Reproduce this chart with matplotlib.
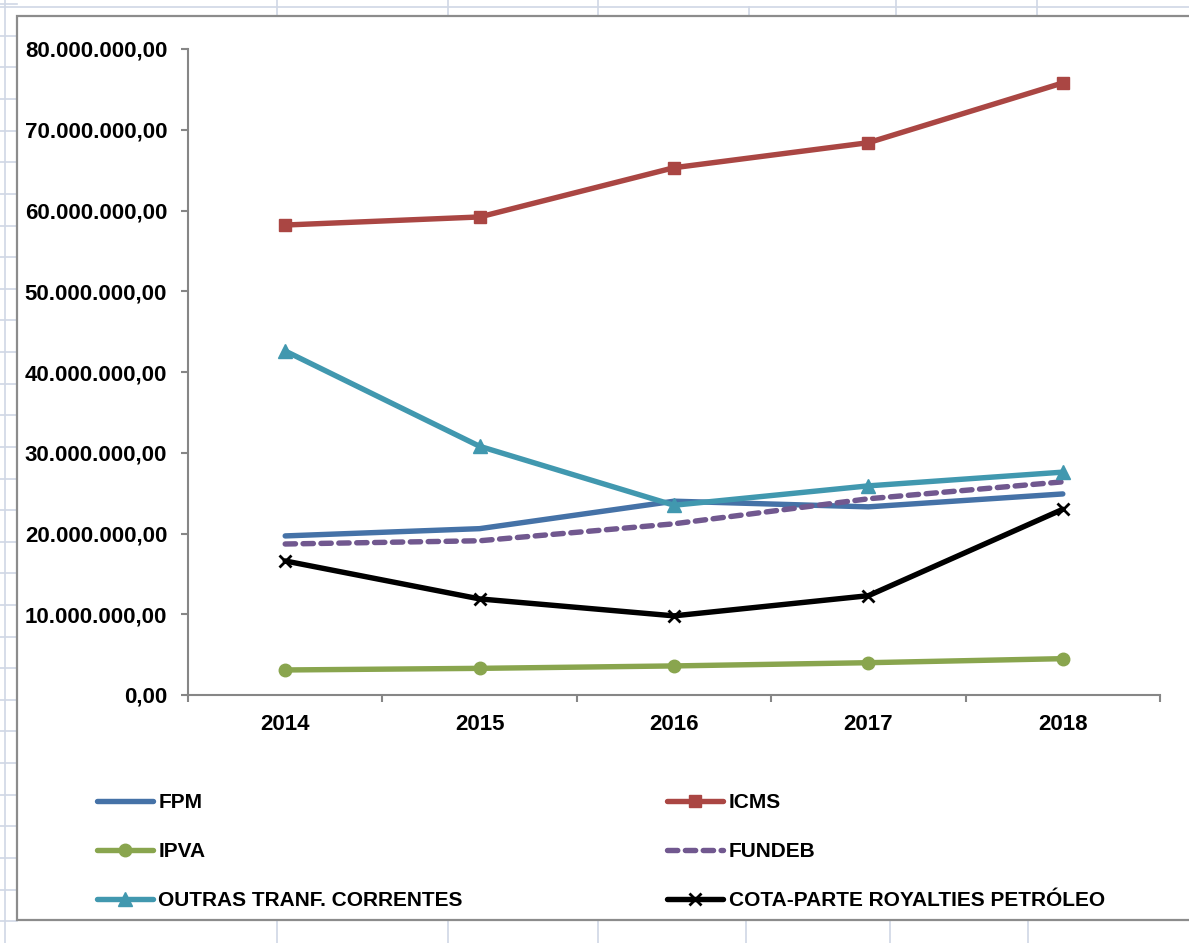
import matplotlib.pyplot as plt
from matplotlib.patches import Rectangle
from matplotlib.ticker import FuncFormatter, MultipleLocator

plt.rcParams['font.family'] = ['Liberation Sans', 'DejaVu Sans']
plt.rcParams['font.weight'] = 'bold'

# Data
years = ['2014', '2015', '2016', '2017', '2018']
fpm = [19.7e6, 20.6e6, 24.0e6, 23.3e6, 24.9e6]
icms = [58.2e6, 59.2e6, 65.3e6, 68.4e6, 75.8e6]
ipva = [3.1e6, 3.3e6, 3.6e6, 4.0e6, 4.5e6]
fundeb = [18.7e6, 19.1e6, 21.2e6, 24.3e6, 26.4e6]
outras = [42.6e6, 30.8e6, 23.5e6, 25.9e6, 27.6e6]
royalties = [16.6e6, 11.9e6, 9.8e6, 12.3e6, 23.0e6]

W, H = 1189, 943
fig = plt.figure(figsize=(W / 100, H / 100), dpi=100)

# Spreadsheet background (pixel coordinates)
bg = fig.add_axes([0, 0, 1, 1])
bg.set_xlim(0, W)
bg.set_ylim(H, 0)
bg.axis('off')
grid_c = '#D0D7E5'
for y in range(605 - 31 * 19, H, 31):
    yy = y + (y - 605) * 0.02
    bg.plot([0, 17], [yy, yy], color=grid_c, lw=1.2)
bg.plot([5, 5], [0, H], color=grid_c, lw=1.2)
bg.plot([0, W], [6.5, 6.5], color=grid_c, lw=1.2)
for x in [277, 448, 598, 896, 1037]:
    bg.plot([x, x], [0, 16], color=grid_c, lw=1.2)
bg.plot([749, 749], [6.5, 16], color=grid_c, lw=1.2)
for x in [277, 448, 598, 746, 890, 1028]:
    bg.plot([x, x], [920, H], color=grid_c, lw=1.2)
bg.add_patch(Rectangle((17, 16), W, 904, facecolor='white',
                       edgecolor='#8C8C8C', lw=1.6, zorder=3))

# Chart
ax = fig.add_axes([188 / W, (H - 695) / H, (1160 - 188) / W, (695 - 49) / H])
ax.patch.set_alpha(0)
x = range(len(years))
lw = 3.9
ax.plot(x, fpm, color='#4572A7', lw=lw, solid_capstyle='round', label='FPM')
ax.plot(x, icms, color='#AA4643', lw=lw, marker='s', ms=8.5,
        solid_capstyle='round', label='ICMS')
ax.plot(x, ipva, color='#89A54E', lw=lw, marker='o', ms=9,
        solid_capstyle='round', label='IPVA')
ax.plot(x, fundeb, color='#71588F', lw=lw, dashes=(1.9, 1.4),
        dash_capstyle='round', label='FUNDEB')
ax.plot(x, outras, color='#4198AF', lw=lw, marker='^', ms=10,
        solid_capstyle='round', label='OUTRAS TRANF. CORRENTES')
ax.plot(x, royalties, color='black', lw=lw, marker='x', ms=8.5, mew=2,
        solid_capstyle='round', label='COTA-PARTE ROYALTIES PETRÓLEO')

ax.set_xlim(-0.5, 4.5)
ax.set_ylim(0, 80e6)
ax.yaxis.set_major_locator(MultipleLocator(10e6))
ax.yaxis.set_major_formatter(FuncFormatter(
    lambda v, p: f'{v:,.2f}'.replace(',', '#').replace('.', ',').replace('#', '.')))
ax.set_xticks(list(x))
ax.set_xticklabels(years, fontsize=16, fontweight='bold')
ax.set_xticks([i - 0.5 for i in range(6)], minor=True)
ax.tick_params(axis='x', which='major', length=0, pad=14)
ax.tick_params(axis='x', which='minor', length=5, width=1.5, color='#868686')
ax.tick_params(axis='y', length=5, width=1.5, color='#868686', pad=10,
               labelsize=16)
for t in ax.get_yticklabels():
    t.set_fontweight('bold')
for s in ['top', 'right']:
    ax.spines[s].set_visible(False)
for s in ['left', 'bottom']:
    ax.spines[s].set_color('#868686')
    ax.spines[s].set_linewidth(1.5)

h, l = ax.get_legend_handles_labels()
order = [0, 2, 4, 1, 3, 5]
fig.legend([h[i] for i in order], [l[i] for i in order], ncol=2,
           loc='upper left', bbox_to_anchor=(97 / W, (H - 793) / H),
           frameon=False, borderpad=0, borderaxespad=0,
           handlelength=2.7, handletextpad=0.25, columnspacing=9.8,
           labelspacing=1.45, prop={'weight': 'bold', 'size': 15})

fig.savefig('out.png', dpi=100)
